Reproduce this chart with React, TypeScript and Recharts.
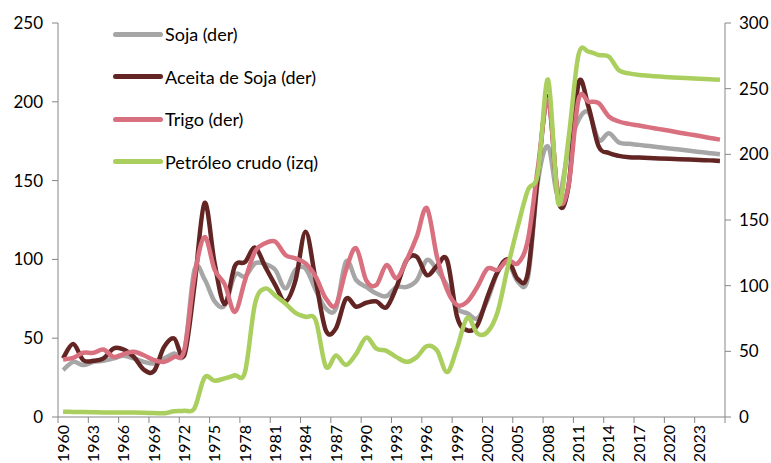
import { LineChart, Line, XAxis, YAxis, Legend } from "recharts";

const years = [
  1960, 1961, 1962, 1963, 1964, 1965, 1966, 1967, 1968, 1969,
  1970, 1971, 1972, 1973, 1974, 1975, 1976, 1977, 1978, 1979,
  1980, 1981, 1982, 1983, 1984, 1985, 1986, 1987, 1988, 1989,
  1990, 1991, 1992, 1993, 1994, 1995, 1996, 1997, 1998, 1999,
  2000, 2001, 2002, 2003, 2004, 2005, 2006, 2007, 2008, 2009,
  2010, 2011, 2012, 2013, 2014, 2015, 2016, 2017, 2018, 2019,
  2020, 2021, 2022, 2023, 2024, 2025,
];

// right axis
const soja = [
  35.7, 42, 39.5, 42, 42.8, 44.6, 46.6, 44.6, 42, 40.8,
  44.6, 48.4, 49.6, 112, 105, 88, 85, 108, 107, 117,
  116.5, 112, 98, 112, 113, 96.7, 82.7, 82.7, 118.3, 104.3,
  99, 94, 92, 99, 99, 104, 119.5, 112, 100, 82.7,
  79, 75, 89, 110, 118, 103, 106, 180, 206, 168,
  203, 226, 232, 211, 216, 209, 208, 207.2, 206.3, 205.4,
  204.5, 203.6, 202.7, 201.8, 200.9, 200,
];

const aceite = [
  44.6, 55.5, 43.3, 42.8, 44.6, 52.2, 51.4, 45.8, 36, 35,
  53.4, 59.8, 47, 100, 163, 117, 86, 115, 118, 129,
  114.5, 100.5, 88, 104, 141, 104, 66, 67.5, 90, 84,
  87, 88, 83.5, 99, 119.5, 122, 108, 115, 119.5, 76,
  66, 70, 91.6, 110.6, 120, 105, 110, 185, 244, 165,
  175, 254, 236, 206, 201, 198.8, 197.8, 197.5, 197.2, 196.9,
  196.6, 196.3, 196, 195.7, 195.4, 195,
];

const trigo = [
  43.8, 45, 48.9, 48.9, 51.4, 45.8, 47.9, 49.6, 47, 43.3,
  42, 45.8, 51, 107, 137, 112, 101, 80, 104, 126,
  132.3, 133.5, 123.4, 120.8, 117, 106.8, 90.3, 85.2, 112, 128.5,
  104, 100.5, 115.7, 105.6, 119.5, 137.3, 159, 122, 96.7, 85.2,
  87.8, 99.2, 113, 112, 119.5, 117, 135, 190.7, 241.5, 167.8,
  175.4, 241.5, 240, 239, 228.8, 225, 223.2, 221.9, 220.5, 219.2,
  217.9, 216.5, 215.2, 213.9, 212.5, 211.2,
];

// left axis
const petroleo = [
  3.4, 3.2, 3.1, 3.0, 2.9, 2.9, 2.8, 2.8, 2.7, 2.5,
  2.4, 3.6, 4.0, 5.5, 25, 23, 24.5, 26.5, 28.5, 72,
  81.5, 77, 72, 66, 63.5, 61.4, 32, 39, 33, 40,
  50.4, 43.4, 42, 38, 35, 38, 45, 42.3, 28.5, 44,
  63, 53, 54, 66.6, 95, 121, 144, 155, 214, 135.6,
  175.7, 229.7, 231.8, 229.7, 228.7, 220, 218, 217, 216.5, 216,
  215.6, 215.2, 214.9, 214.6, 214.3, 214,
];

const xLabels = [
  "1960", "1963", "1966", "1969", "1972", "1975", "1978", "1981",
  "1984", "1987", "1990", "1993", "1996", "1999", "2002", "2005",
  "2008", "2011", "2014", "2017", "2020", "2023",
];
const leftTicks = [0, 50, 100, 150, 200, 250];
const rightTicks = [0, 50, 100, 150, 200, 250, 300];

const data = years.map((year, i) => ({
  year,
  soja: soja[i],
  aceite: aceite[i],
  trigo: trigo[i],
  petroleo: petroleo[i],
}));

const W = 771;
const H = 463;
const LEFT_W = 58;
const RIGHT_W = 46;
const HALF = (W - LEFT_W - RIGHT_W) / years.length / 2;
const AXIS = "#868686";
const FONT = "Lato, 'Open Sans', sans-serif";

// tick marks sit between categories, like Excel does
const xTicks = [...xLabels.map((l) => Number(l) - 0.5), 2025.5];

// smoothing similar to Excel's "smoothed line"
const smoothCurve: any = (context: any) => {
  let xs: number[] = [];
  let ys: number[] = [];
  return {
    areaStart() {},
    areaEnd() {},
    lineStart() {
      xs = [];
      ys = [];
    },
    point(x: number, y: number) {
      xs.push(+x);
      ys.push(+y);
    },
    lineEnd() {
      const n = xs.length;
      if (!n) return;
      context.moveTo(xs[0], ys[0]);
      for (let i = 0; i < n - 1; i++) {
        const a = Math.max(i - 1, 0);
        const d = Math.min(i + 2, n - 1);
        context.bezierCurveTo(
          xs[i] + (xs[i + 1] - xs[a]) / 6,
          ys[i] + (ys[i + 1] - ys[a]) / 6,
          xs[i + 1] - (xs[d] - xs[i]) / 6,
          ys[i + 1] - (ys[d] - ys[i]) / 6,
          xs[i + 1],
          ys[i + 1]
        );
      }
    },
  };
};

const YearTick = (props: any) => {
  const { x, y, payload } = props;
  const label = String(payload.value + 0.5);
  return (
    <g>
      <line x1={x} x2={x} y1={y - 8} y2={y - 2} stroke={AXIS} />
      {xLabels.includes(label) && (
        <text
          transform={`translate(${x + HALF},${y}) rotate(-90)`}
          textAnchor="end"
          dy="0.35em"
          fill="#000"
          fontSize={16}
          fontFamily={FONT}
        >
          {label}
        </text>
      )}
    </g>
  );
};

const LegendBox = (props: any) => (
  <div style={{ fontFamily: FONT, fontSize: 18, color: "#000" }}>
    {(props.payload || []).map((p: any) => (
      <div
        key={p.value}
        style={{ display: "flex", alignItems: "center", height: 42.5 }}
      >
        <span
          style={{
            display: "inline-block",
            width: 50,
            height: 5,
            borderRadius: 3,
            background: p.color,
            marginRight: 2,
          }}
        />
        <span>{p.value}</span>
      </div>
    ))}
  </div>
);

export default function App() {
  return (
    <div style={{ position: "absolute", left: 0, top: 0, background: "#fff" }}>
      <LineChart
        width={W}
        height={H}
        data={data}
        margin={{ top: 23, right: 0, bottom: 0, left: 0 }}
        style={{ fontFamily: FONT }}
      >
        <XAxis
          dataKey="year"
          type="number"
          domain={[1959.5, 2025.5]}
          ticks={xTicks}
          interval={0}
          height={46}
          tickSize={6}
          tickMargin={2}
          tickLine={false}
          axisLine={{ stroke: AXIS }}
          tick={<YearTick />}
        />
        <YAxis
          yAxisId="left"
          domain={[0, 250]}
          ticks={leftTicks}
          width={LEFT_W}
          tickSize={6}
          tickMargin={9}
          axisLine={{ stroke: AXIS }}
          tickLine={{ stroke: AXIS }}
          tick={{ fill: "#000", fontSize: 17, fontFamily: FONT }}
        />
        <YAxis
          yAxisId="right"
          orientation="right"
          domain={[0, 300]}
          ticks={rightTicks}
          width={RIGHT_W}
          tickSize={6}
          tickMargin={8}
          axisLine={{ stroke: AXIS }}
          tickLine={{ stroke: AXIS }}
          tick={{ fill: "#000", fontSize: 17, fontFamily: FONT, textAnchor: "start" }}
        />
        <Legend
          layout="vertical"
          align="center"
          verticalAlign="middle"
          itemSorter={null}
          content={<LegendBox />}
          wrapperStyle={{ left: 113, top: 13, width: "auto" }}
        />
        <Line
          yAxisId="right"
          dataKey="soja"
          name="Soja (der)"
          type={smoothCurve}
          stroke="#A6A6A6"
          strokeWidth={4.5}
          dot={false}
          isAnimationActive={false}
        />
        <Line
          yAxisId="right"
          dataKey="aceite"
          name="Aceita de Soja (der)"
          type={smoothCurve}
          stroke="#632523"
          strokeWidth={4.5}
          dot={false}
          isAnimationActive={false}
        />
        <Line
          yAxisId="right"
          dataKey="trigo"
          name="Trigo (der)"
          type={smoothCurve}
          stroke="#D9707F"
          strokeWidth={4.5}
          dot={false}
          isAnimationActive={false}
        />
        <Line
          yAxisId="left"
          dataKey="petroleo"
          name="Petróleo crudo (izq)"
          type={smoothCurve}
          stroke="#AACF5F"
          strokeWidth={4.5}
          dot={false}
          isAnimationActive={false}
        />
      </LineChart>
    </div>
  );
}
